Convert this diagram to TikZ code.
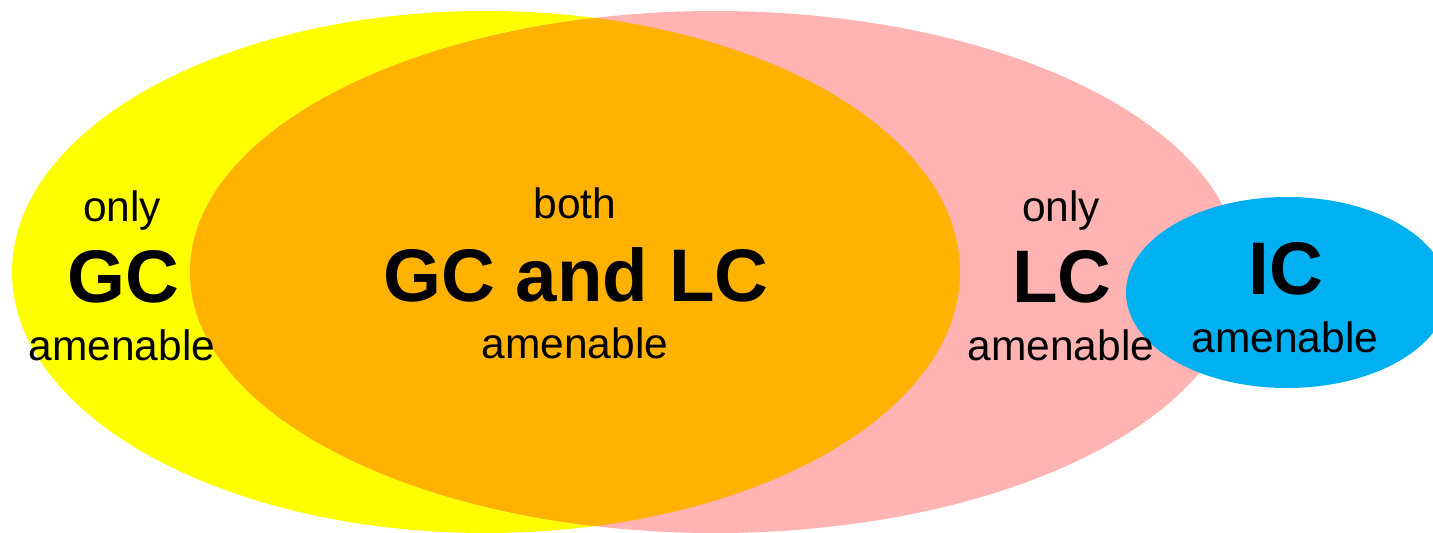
\documentclass[tikz,border=0pt]{standalone}
\usepackage{fontspec}
\setmainfont{Liberation Sans}
\definecolor{gcyellow}{HTML}{FFFF00}
\definecolor{lcpink}{HTML}{FFB3B3}
\definecolor{bothorange}{HTML}{FFB200}
\definecolor{icblue}{HTML}{00B0F0}
\tikzset{
  small/.style={anchor=base, inner sep=0pt, font=\fontsize{42.5}{46}\selectfont},
  big/.style={anchor=base, inner sep=0pt, font=\fontsize{74.5}{80}\selectfont\bfseries},
}
\begin{document}
\begin{tikzpicture}[x=1pt, y=-1pt]
\useasboundingbox (0,0) rectangle (1433,533);
% sets
\fill[gcyellow] (486,272) ellipse [x radius=474, y radius=261];
\fill[lcpink] (715,272) ellipse [x radius=525, y radius=261];
\begin{scope}
  \clip (486,272) ellipse [x radius=474, y radius=261];
  \fill[bothorange] (715,272) ellipse [x radius=525, y radius=261];
\end{scope}
\fill[icblue] (1287,292.5) ellipse [x radius=161, y radius=95.5];
% labels
\node[small] (gconly) at (122,221) {only};
\node[big]   (gc)     at (123,302) {GC};
\node[small] (gcam)   at (122,360) {amenable};
\node[small] (both)   at (575,218) {both};
\node[big]   (gclc)   at (576,301) {GC and LC};
\node[small] (bam)    at (575,358) {amenable};
\node[small] (lconly) at (1061,221) {only};
\node[big]   (lc)     at (1062,302) {LC};
\node[small] (lcam)   at (1061,360) {amenable};
\node[big]   (ic)     at (1286,294) {IC};
\node[small] (icam)   at (1285,352) {amenable};
\end{tikzpicture}
\end{document}
